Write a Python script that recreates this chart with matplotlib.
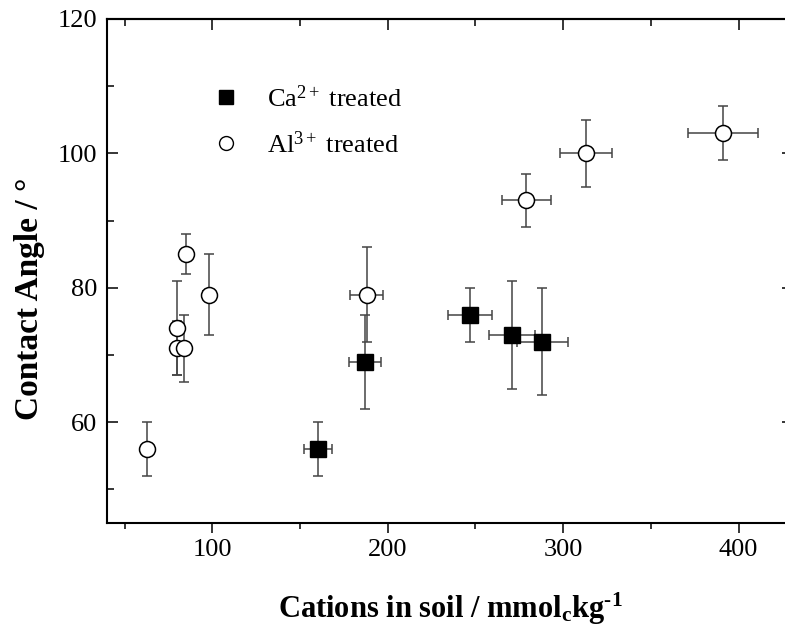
import matplotlib
matplotlib.use("Agg")
import matplotlib.pyplot as plt
from matplotlib.lines import Line2D
from matplotlib.ticker import MultipleLocator

plt.rcParams['font.family'] = 'Liberation Serif'
plt.rcParams['mathtext.fontset'] = 'custom'
plt.rcParams['mathtext.rm'] = 'Liberation Serif'
plt.rcParams['mathtext.it'] = 'Liberation Serif:italic'
plt.rcParams['mathtext.bf'] = 'Liberation Serif:bold'

# Ca2+ treated soils
ca_x = [160, 187, 247, 271, 288]
ca_y = [56, 69, 76, 73, 72]
ca_xerr = [8, 9, 12.5, 13, 14.5]
ca_yerr = [4, 7, 4, 8, 8]

# Al3+ treated soils
al_x = [63, 80, 80, 84, 85, 98, 188, 279, 313, 391]
al_y = [56, 74, 71, 71, 85, 79, 79, 93, 100, 103]
al_xerr = [0, 0, 0, 2, 0, 3, 9.5, 14, 15, 20]
al_yerr = [4, 7, 4, 5, 3, 6, 7, 4, 5, 4]

fig = plt.figure(figsize=(7.85, 6.3), dpi=100)
# right spine sits just past the image edge in the original
ax = fig.add_axes([107/785, 107/630, 686/785, 504/630])

bar_col = '#444444'
ax.errorbar(ca_x, ca_y, xerr=ca_xerr, yerr=ca_yerr, fmt='s', ms=11,
            mfc='black', mec='black', ecolor=bar_col, elinewidth=1.1,
            capsize=3.5, capthick=1.1, zorder=3)
ax.errorbar(al_x, al_y, xerr=al_xerr, yerr=al_yerr, fmt='o', ms=11.5,
            mfc='white', mec='black', mew=1.1, ecolor=bar_col, elinewidth=1.1,
            capsize=3.5, capthick=1.1, zorder=3)

ax.set_xlim(40, 431)
ax.set_ylim(45, 120)
ax.xaxis.set_major_locator(MultipleLocator(100))
ax.xaxis.set_minor_locator(MultipleLocator(50))
ax.yaxis.set_major_locator(MultipleLocator(20))
ax.yaxis.set_minor_locator(MultipleLocator(10))

for s in ax.spines.values():
    s.set_linewidth(1.5)

# bottom ticks point out, left ticks point in
ax.tick_params(axis='x', which='major', direction='out', length=7.5, width=1.1,
               labelsize=19, pad=4, top=False)
ax.tick_params(axis='x', which='minor', direction='out', length=4.5, width=1.1, top=False)
ax.tick_params(axis='y', which='major', direction='in', length=8, width=1.1,
               labelsize=19, pad=7, right=False)
ax.tick_params(axis='y', which='minor', direction='in', length=5, width=1.1, right=False)

# top and right ticks, pointing inward
top = ax.secondary_xaxis('top')
top.xaxis.set_major_locator(MultipleLocator(100))
top.xaxis.set_minor_locator(MultipleLocator(50))
top.tick_params(which='major', direction='in', length=8, width=1.1, labeltop=False)
top.tick_params(which='minor', direction='in', length=5, width=1.1)
top.spines['top'].set_linewidth(1.5)

right = ax.secondary_yaxis('right')
right.yaxis.set_major_locator(MultipleLocator(20))
right.yaxis.set_minor_locator(MultipleLocator(10))
right.tick_params(which='major', direction='in', length=8, width=1.1, labelright=False)
right.tick_params(which='minor', direction='in', length=5, width=1.1)

ax.set_xlabel('Cations in soil / mmol$_\\mathbf{c}$kg$^{\\mathbf{\u20101}}$',
              fontsize=22, fontweight='bold')
ax.xaxis.set_label_coords(0.5, -0.135)
ax.xaxis.label.set_va('top')
ax.set_ylabel('Contact Angle / °', fontsize=24, fontweight='bold')
ax.yaxis.set_label_coords(-0.091, 0.444)

handles = [
    Line2D([], [], ls='none', marker='s', ms=9.5, mfc='black', mec='black'),
    Line2D([], [], ls='none', marker='o', ms=10, mfc='white', mec='black', mew=1.0),
]
labels = [r'Ca$^{\mathrm{2+}}$ treated', r'Al$^{\mathrm{3+}}$ treated']
ax.legend(handles, labels, loc='upper left', bbox_to_anchor=(0.1395, 0.89),
          frameon=False, fontsize=19, handlelength=1.0, handletextpad=1.03,
          labelspacing=0.74, borderaxespad=0)

fig.savefig('out.png', dpi=100)
